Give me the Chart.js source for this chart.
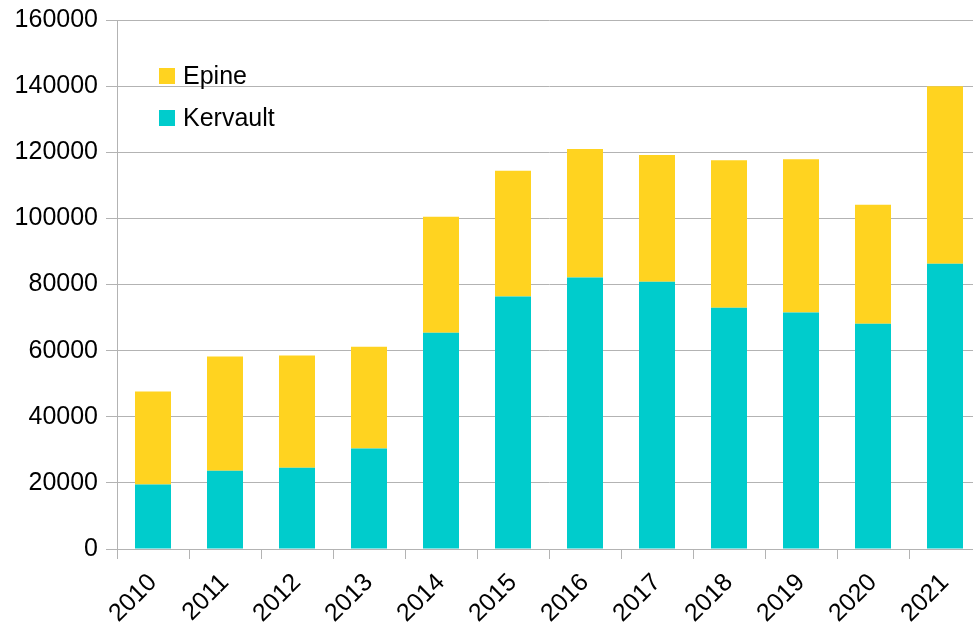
<!DOCTYPE html>
<html>
<head>
<meta charset="utf-8">
<script src="https://cdn.jsdelivr.net/npm/chart.js@4.4.1/dist/chart.umd.min.js"></script>
<style>
  html, body { margin: 0; padding: 0; background: #ffffff; overflow: hidden; }
  #wrap { width: 981px; height: 624px; }
</style>
</head>
<body>
<div id="wrap"><canvas id="c" width="981" height="624"></canvas></div>
<script>
const categories = ["2010","2011","2012","2013","2014","2015","2016","2017","2018","2019","2020","2021"];
const kervault = [19500, 23700, 24600, 30400, 65400, 76400, 82100, 80800, 73000, 71500, 68100, 86300];
const epine    = [28100, 34500, 33900, 30800, 35100, 38000, 38900, 38400, 44600, 46400, 36000, 53700];
const yTicks = [0, 20000, 40000, 60000, 80000, 100000, 120000, 140000, 160000];

const FONT = "'Liberation Sans', Arial, sans-serif";
const GRID = '#b3b3b3';

const insideLegend = {
  id: 'insideLegend',
  afterDraw(chart) {
    const ctx = chart.ctx;
    const ds = chart.data.datasets.slice().reverse();
    ctx.save();
    ctx.font = '25px ' + FONT;
    ctx.textBaseline = 'middle';
    ctx.textAlign = 'left';
    ds.forEach((d, i) => {
      const cy = 76 + i * 42;
      ctx.fillStyle = d.backgroundColor;
      ctx.fillRect(159, cy - 8, 16, 16);
      ctx.fillStyle = '#000000';
      ctx.fillText(d.label, 183, cy + 1);
    });
    ctx.restore();
  }
};

new Chart(document.getElementById('c'), {
  type: 'bar',
  data: {
    labels: categories,
    datasets: [
      { label: 'Kervault', data: kervault, backgroundColor: '#00cccc', borderWidth: 0 },
      { label: 'Epine', data: epine, backgroundColor: '#ffd320', borderWidth: 0 }
    ]
  },
  options: {
    responsive: false,
    animation: false,
    devicePixelRatio: 1,
    layout: { padding: { top: 20, right: 0, bottom: 0, left: 0 } },
    datasets: { bar: { barPercentage: 0.5, categoryPercentage: 1.0 } },
    plugins: { legend: { display: false }, tooltip: { enabled: false } },
    scales: {
      x: {
        stacked: true,
        offset: true,
        grid: { display: true, drawOnChartArea: false, drawTicks: true, tickLength: 10, color: GRID, offset: true },
        border: { display: true, color: GRID, width: 1 },
        ticks: { color: '#000000', font: { family: FONT, size: 25 }, minRotation: 45, maxRotation: 45, padding: 9, autoSkip: false },
        afterFit(scale) { scale.height = 75; }
      },
      y: {
        stacked: true,
        min: 0, max: 160000,
        afterBuildTicks(scale) { scale.ticks = yTicks.map(v => ({ value: v })); },
        grid: { color: GRID, drawTicks: true, tickLength: 11 },
        border: { display: true, color: GRID, width: 1 },
        ticks: { color: '#000000', font: { family: FONT, size: 25, lineHeight: 1.0 }, padding: 8, callback: v => String(v) },
        afterFit(scale) { scale.width = 117; scale.paddingTop = 0; scale.paddingBottom = 0; }
      }
    }
  },
  plugins: [insideLegend]
});
</script>
</body>
</html>
